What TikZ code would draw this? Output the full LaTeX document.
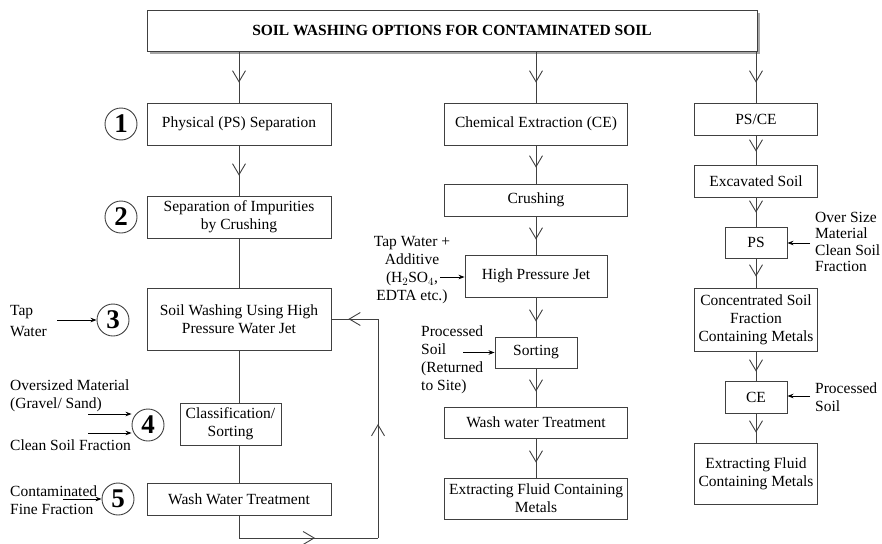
\documentclass[tikz,border=0pt]{standalone}
\usepackage{fontspec}
\setmainfont{Liberation Serif}
\usetikzlibrary{arrows.meta, positioning, decorations.markings, shadows}

\newcommand{\boxfont}{\fontsize{15.5}{18}\selectfont}

\tikzset{
  box/.style={draw=black!75, line width=0.9pt, fill=white, align=center, inner sep=1pt, font=\boxfont},
  num/.style={draw=black!75, circle, line width=0.9pt, minimum size=32pt, inner sep=0pt, font=\bfseries\fontsize{27}{27}\selectfont},
  flow/.style={draw=black!75, line width=0.9pt},
  vtip/.style={postaction={decorate, decoration={markings, mark=at position #1 with {\arrow{Straight Barb[length=11pt,width=13pt,line width=0.9pt]}}}}},
  feed/.style={-{Stealth[length=6pt,width=4.5pt]}, line width=0.8pt},
  lbl/.style={align=left, inner sep=0pt, font=\boxfont},
}

\begin{document}
\begin{tikzpicture}[x=1pt, y=-1pt]
  \useasboundingbox (0,0) rectangle (882,543);

  % title
  \node[box, minimum width=610pt, minimum height=41pt, font=\bfseries\boxfont,
        drop shadow={shadow xshift=3pt, shadow yshift=-3pt, fill=black!35, opacity=1}]
        (title) at (452,30.5) {SOIL WASHING OPTIONS FOR CONTAMINATED SOIL};

  % physical separation
  \node[box, minimum width=184pt, minimum height=42pt] (p1) at (239,124) {Physical (PS) Separation};
  \node[box, minimum width=184pt, minimum height=42pt] (p2) at (239,217) {Separation of Impurities\\by Crushing};
  \node[box, minimum width=184pt, minimum height=62pt] (p3) at (239,319) {Soil Washing Using High\\Pressure Water Jet};
  \node[box, minimum width=101pt, minimum height=42pt] (p4) at (230.5,424) {Classification/\\Sorting};
  \node[box, minimum width=184pt, minimum height=32pt] (p5) at (239,499) {Wash Water Treatment};

  \node[num] (c1) at (121,124) {1};
  \node[num] (c2) at (121,217) {2};
  \node[num] (c3) at (113,320) {3};
  \node[num] (c4) at (148,425) {4};
  \node[num] (c5) at (118,499) {5};

  \node[lbl, anchor=west, font=\fontsize{15.5}{21}\selectfont] (tap) at (10,321) {Tap\\Water};
  \node[lbl, anchor=west] (over) at (10,396) {Oversized Material\\(Gravel/ Sand)};
  \node[lbl, anchor=west] (clean) at (10,445) {Clean Soil Fraction};
  \node[lbl, anchor=west] (fine) at (10,500) {Contaminated\\Fine Fraction};

  \coordinate (tapin) at (57,320);
  \coordinate (overin) at (88,414);
  \coordinate (cleanin) at (88,433);
  \coordinate (finein) at (63,499);
  \draw[feed] (tapin) -- (c3.west);
  \draw[feed] (overin) -- (overin -| c4.west);
  \draw[feed] (cleanin) -- (cleanin -| c4.west);
  \draw[feed] (finein) -- (c5.west);

  \draw[flow, vtip=-20pt] (title.south -| p1.north) -- (p1.north);
  \draw[flow, vtip=-20pt] (p1.south) -- (p2.north);
  \draw[flow] (p2.south) -- (p3.north);
  \draw[flow] (p3.south) -- (p3.south |- p4.north);
  \draw[flow] (p3.south |- p4.south) -- (p5.north);

  % recycle loop
  \coordinate (lb) at (239,538);
  \coordinate (lr) at (378,538);
  \coordinate (lt) at (378,319);
  \draw[flow] (p5.south) -- (lb);
  \draw[flow, vtip=-63pt] (lb) -- (lr);
  \draw[flow, vtip=-105pt] (lr) -- (lt);
  \draw[flow, vtip=-17pt] (lt) -- (lt -| p3.east);

  % chemical extraction
  \node[box, minimum width=183pt, minimum height=42pt] (ce) at (536,124) {Chemical Extraction (CE)};
  \node[box, minimum width=183pt, minimum height=32pt] (crush) at (536,200) {Crushing};
  \node[box, minimum width=142pt, minimum height=42pt] (jet) at (536,276) {High Pressure Jet};
  \node[box, minimum width=82pt, minimum height=31pt] (sort) at (536,352.5) {Sorting};
  \node[box, minimum width=183pt, minimum height=31pt] (wash) at (536,422.5) {Wash water Treatment};
  \node[box, minimum width=183pt, minimum height=41pt] (fluid) at (536,498.5) {Extracting Fluid Containing\\Metals};

  \node[lbl, align=center] (addit) at (412,270.5) {Tap Water +\\Additive\\(H$_2$SO$_4$,\\EDTA etc.)};
  \node[lbl, anchor=west] (back) at (421,359.5) {Processed\\Soil\\(Returned\\to Site)};
  \coordinate (additin) at (440,277);
  \coordinate (backin) at (463,352.5);
  \draw[feed] (additin) -- (additin -| jet.west);
  \draw[feed] (backin) -- (sort.west);

  \draw[flow, vtip=-20pt] (title.south -| ce.north) -- (ce.north);
  \draw[flow, vtip=-16pt] (ce.south) -- (crush.north);
  \draw[flow, vtip=-15pt] (crush.south) -- (jet.north);
  \draw[flow, vtip=-15pt] (jet.south) -- (sort.north);
  \draw[flow, vtip=-15pt] (sort.south) -- (wash.north);
  \draw[flow, vtip=-15pt] (wash.south) -- (fluid.north);

  % combined PS/CE
  \node[box, minimum width=123pt, minimum height=32pt] (psce) at (756,119) {PS/CE};
  \node[box, minimum width=123pt, minimum height=32pt] (soil) at (756,181) {Excavated Soil};
  \node[box, minimum width=62pt, minimum height=31pt] (ps) at (756,242.5) {PS};
  \node[box, minimum width=123pt, minimum height=63pt] (conc) at (756,319.5) {Concentrated Soil\\Fraction\\Containing Metals};
  \node[box, minimum width=62pt, minimum height=32pt] (cex) at (756,397) {CE};
  \node[box, minimum width=123pt, minimum height=61pt] (metal) at (756,473.5) {Extracting Fluid\\Containing Metals};

  \node[lbl, anchor=west, font=\fontsize{15.5}{16.5}\selectfont] (size) at (815,242) {Over Size\\Material\\Clean Soil\\Fraction};
  \node[lbl, anchor=west] (proc) at (815,397.5) {Processed\\Soil};
  \coordinate (sizein) at (810,243);
  \coordinate (procin) at (810,396);
  \draw[feed] (sizein) -- (sizein -| ps.east);
  \draw[feed] (procin) -- (procin -| cex.east);

  \draw[flow, vtip=-20pt] (title.south -| psce.north) -- (psce.north);
  \draw[flow, vtip=-13pt] (psce.south) -- (soil.north);
  \draw[flow, vtip=-14pt] (soil.south) -- (ps.north);
  \draw[flow, vtip=-11pt] (ps.south) -- (conc.north);
  \draw[flow, vtip=-9pt] (conc.south) -- (cex.north);
  \draw[flow, vtip=-10pt] (cex.south) -- (metal.north);
\end{tikzpicture}
\end{document}
